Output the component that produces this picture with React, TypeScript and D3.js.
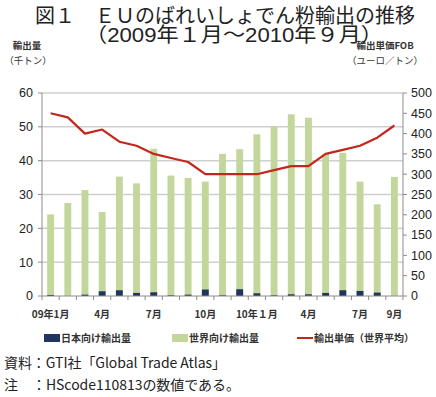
import React from 'react';
import * as d3 from 'd3';

// 2009年1月～2010年9月
const months = [
  '09年1月', '', '', '4月', '', '', '7月', '', '', '10月', '', '',
  '10年１月', '', '', '4月', '', '', '7月', '', '9月'
];
const worldExports = [
  24.1, 27.5, 31.3, 24.8, 35.3, 33.3, 43.5, 35.6, 34.9, 33.8, 42.0, 43.4,
  47.8, 50.0, 53.7, 52.7, 42.0, 42.3, 33.8, 27.1, 35.2
];
const japanExports = [
  0.3, 0, 0.4, 1.4, 1.7, 0.9, 1.1, 0.2, 0.4, 1.9, 0.2, 2.0,
  0.8, 0.2, 0.5, 0.5, 0.9, 1.7, 1.5, 1.0, 0
];
const unitPrice = [
  450, 440, 400, 410, 380, 370, 350, 340, 330, 300, 300, 300,
  300, 310, 320, 320, 350, 360, 370, 390, 420
];
const leftTicks = [0, 10, 20, 30, 40, 50, 60];
const rightTicks = [0, 50, 100, 150, 200, 250, 300, 350, 400, 450, 500];

const W = 436;
const H = 397;
const plot = { left: 42, right: 403, top: 93, bottom: 296 };

const jp = '"Noto Sans CJK JP", "Noto Sans", sans-serif';
const num = 'Arial, "Liberation Sans", sans-serif';

const App = () => {
  const idx = d3.range(months.length);
  const x = d3.scaleBand<number>()
    .domain(idx)
    .range([plot.left, plot.right])
    .paddingInner(0.6)
    .paddingOuter(0.3);
  const step = x.step();
  const yL = d3.scaleLinear().domain([0, 60]).range([plot.bottom, plot.top]);
  const yR = d3.scaleLinear().domain([0, 500]).range([plot.bottom, plot.top]);

  const line = d3.line<number>()
    .x((d, i) => x(i)! + x.bandwidth() / 2)
    .y(d => yR(d));

  const boundaries = d3.range(months.length + 1).map(i => plot.left + i * step);

  return (
    <svg width={W} height={H} style={{ position: 'absolute', left: 0, top: 0, background: '#fff' }}>
      {/* title */}
      <text x={35} y={23} fontFamily={jp} fontSize={20} fill="#222" textLength={380} lengthAdjust="spacingAndGlyphs">
        図１　ＥＵのばれいしょでん粉輸出の推移
      </text>
      <text x={85} y={42} fontFamily={'"Liberation Sans", ' + jp} fontSize={20} fill="#222" textLength={298} lengthAdjust="spacingAndGlyphs">
        （2009年１月～2010年９月）
      </text>

      {/* axis titles */}
      <text x={27} y={49} textAnchor="middle" fontFamily={jp} fontSize={9.5} fontWeight="bold" fill="#333">輸出量</text>
      <text x={28} y={64} textAnchor="middle" fontFamily={jp} fontSize={9.5} fill="#333">（千トン）</text>
      <text x={385} y={49} textAnchor="middle" fontFamily={jp} fontSize={9.5} fontWeight="bold" fill="#333">輸出単価FOB</text>
      <text x={385} y={64} textAnchor="middle" fontFamily={jp} fontSize={9.5} fill="#333">（ユーロ／トン）</text>

      {/* gridlines */}
      {leftTicks.filter(t => t > 0).map(t => (
        <line key={t} x1={plot.left} x2={plot.right} y1={yL(t)} y2={yL(t)} stroke="#cfcfcf" strokeWidth={1.5} />
      ))}

      {/* bars */}
      {worldExports.map((v, i) => (
        <rect key={'w' + i} x={x(i)} y={yL(v)} width={x.bandwidth()} height={plot.bottom - yL(v)} fill="#c3d69b" />
      ))}
      {japanExports.map((v, i) => (
        <rect key={'j' + i} x={x(i)} y={yL(v)} width={x.bandwidth()} height={plot.bottom - yL(v)} fill="#1f3560" />
      ))}

      {/* price line */}
      <path d={line(unitPrice) || ''} fill="none" stroke="#c4261d" strokeWidth={2.2} strokeLinejoin="round" />

      {/* axes */}
      <line x1={plot.left} x2={plot.left} y1={plot.top} y2={plot.bottom} stroke="#8c8c8c" />
      <line x1={plot.right} x2={plot.right} y1={plot.top} y2={plot.bottom} stroke="#8c8c8c" />
      <line x1={plot.left} x2={plot.right} y1={plot.bottom} y2={plot.bottom} stroke="#8c8c8c" />
      {leftTicks.map(t => (
        <g key={'l' + t}>
          <line x1={plot.left - 4} x2={plot.left} y1={yL(t)} y2={yL(t)} stroke="#8c8c8c" />
          <text x={33} y={yL(t)} dy="0.35em" textAnchor="end" fontFamily={num} fontSize={12.5} fill="#222">{t}</text>
        </g>
      ))}
      {rightTicks.map(t => (
        <g key={'r' + t}>
          <line x1={plot.right} x2={plot.right + 4} y1={yR(t)} y2={yR(t)} stroke="#8c8c8c" />
          <text x={411} y={yR(t)} dy="0.35em" textAnchor="start" fontFamily={num} fontSize={12.5} fill="#222">{t}</text>
        </g>
      ))}
      {boundaries.map((b, i) => (
        <line key={'b' + i} x1={b} x2={b} y1={plot.bottom} y2={plot.bottom + 4} stroke="#8c8c8c" />
      ))}
      {months.map((m, i) => m && (
        <text key={'m' + i} x={x(i)! + x.bandwidth() / 2} y={318} textAnchor="middle" fontFamily={jp} fontSize={10} fontWeight="bold" fill="#333">{m}</text>
      ))}

      {/* legend */}
      <rect x={44} y={334} width={16} height={8} fill="#1f3560" />
      <text x={61} y={338} dy="0.35em" fontFamily={jp} fontSize={10} fontWeight="bold" fill="#333">日本向け輸出量</text>
      <rect x={172} y={334} width={16} height={8} fill="#c3d69b" />
      <text x={189} y={338} dy="0.35em" fontFamily={jp} fontSize={10} fontWeight="bold" fill="#333">世界向け輸出量</text>
      <line x1={297} x2={313} y1={338} y2={338} stroke="#c4261d" strokeWidth={2} />
      <text x={314} y={338} dy="0.35em" fontFamily={jp} fontSize={10} fontWeight="bold" fill="#333">輸出単価（世界平均）</text>

      {/* notes */}
      <text x={4} y={368} fontFamily={jp} fontSize={14} fill="#222" textLength={222} lengthAdjust="spacing">資料：GTI社「Global Trade Atlas」</text>
      <text x={4} y={390} fontFamily={jp} fontSize={14} fill="#222" textLength={236} lengthAdjust="spacing">注　：HScode110813の数値である。</text>
    </svg>
  );
};

export default App;
